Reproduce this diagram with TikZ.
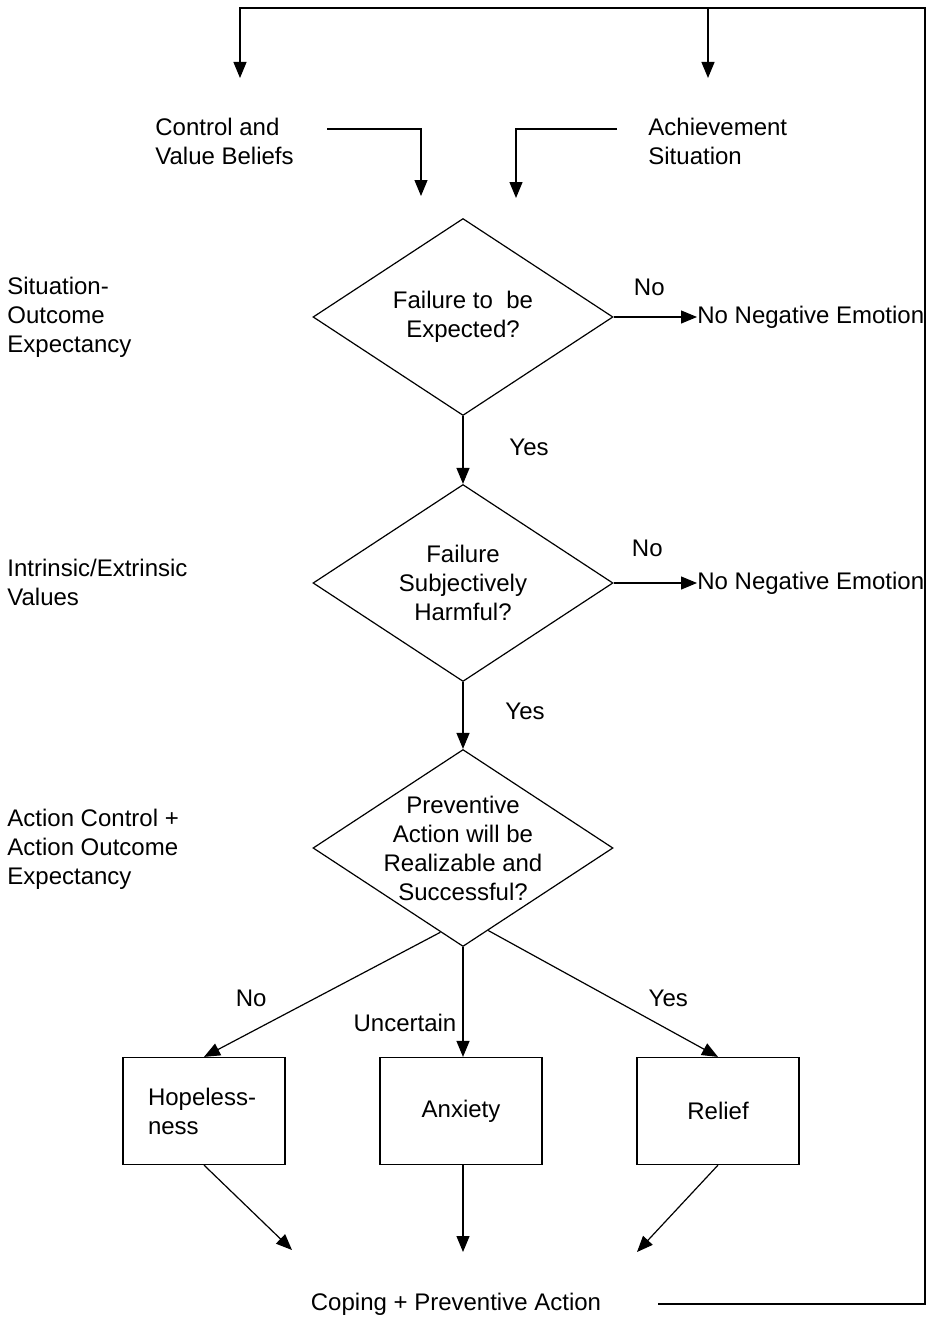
\documentclass[tikz,border=0pt]{standalone}
\usepackage{fontspec}
\setmainfont{Liberation Sans}
\usetikzlibrary{shapes.geometric, arrows.meta, positioning}
\tikzset{
  wire/.style  ={line width=0.6pt, draw=black},
  flow/.style  ={wire, -{Triangle[length=8pt,width=6.5pt]}},
  decide/.style={diamond, draw, line width=0.6pt, minimum width=150pt,
                 minimum height=98.5pt, inner sep=-10pt, align=center},
  emo/.style   ={draw, line width=0.6pt, minimum width=81pt,
                 minimum height=53.5pt, inner sep=0pt, align=center},
  side/.style  ={align=left, inner sep=0pt},
  lbl/.style   ={inner sep=0pt}
}
\begin{document}
\begin{tikzpicture}[x=0.5pt, y=-0.5pt, font=\fontsize{12}{14.5}\selectfont]
  \useasboundingbox (0,0) rectangle (933,1322);

  % inputs
  \node[side, anchor=west] (cvb) at (155,141) {Control and\\Value Beliefs};
  \node[side, anchor=west] (ach) at (648,141) {Achievement\\Situation};
  \coordinate (cvbtop) at (240,78);
  \coordinate (achtop) at (708,78);
  \coordinate (cvbin)  at (421,196);
  \coordinate (achin)  at (516,198);
  \coordinate (loop)   at (925,8);

  % appraisals
  \node[side, anchor=west] (sit) at (7,317) {Situation-\\Outcome\\Expectancy};
  \node[side, anchor=west] (val) at (7,582) {Intrinsic/Extrinsic\\Values};
  \node[side, anchor=west] (act) at (7,849) {Action Control +\\Action Outcome\\Expectancy};

  % decisions
  \node[decide] (d1) at (463,317) {Failure to~ be\\Expected?};
  \node[decide] (d2) at (463,583) {Failure\\Subjectively\\Harmful?};
  \node[decide] (d3) at (463,848) {Preventive\\Action will be\\Realizable and\\Successful?};
  \node[lbl, anchor=west] (none1) at (697,317) {No Negative Emotion};
  \node[lbl, anchor=west] (none2) at (697,583) {No Negative Emotion};

  % emotions
  \node[emo, text width=56pt, align=left] (hope) at (204,1111) {Hopeless-\\ness};
  \node[emo] (anx) at (461,1111) {Anxiety};
  \node[emo] (rel) at (718,1111) {Relief};

  \node[lbl] (cope) at (456,1304) {Coping + Preventive Action};
  \coordinate (copel) at (292,1250);
  \coordinate (copem) at (463,1252);
  \coordinate (coper) at (637,1252);

  % connectors
  \draw[flow] ([shift={(33,-12)}]cvb.east) -| (cvbin);
  \draw[flow] ([shift={(-31,-12)}]ach.west) -| (achin);
  \draw[flow] ([xshift=28.5pt]cope.east) -| (loop) -| (cvbtop);
  \draw[flow] (achtop |- loop) -- (achtop);

  \draw[flow] (d1.east) -- node[lbl, midway, xshift=-3pt, yshift=15pt] (no1) {No} (d1.east -| none1.west);
  \draw[flow] (d2.east) -- node[lbl, midway, xshift=-4pt, yshift=17.5pt] (no2) {No} (d2.east -| none2.west);
  \draw[flow] (d1.south) -- node[lbl, midway, xshift=33pt, yshift=1.5pt] (yes1) {Yes} (d2.north);
  \draw[flow] (d2.south) -- node[lbl, midway, xshift=31pt, yshift=2pt] (yes2) {Yes} (d3.north);

  \draw[flow] (d3.-105) -- node[lbl, pos=0.53, xshift=-32pt] (nol) {No} (hope.north);
  \draw[flow] (d3.south) -- node[lbl, pos=0.69, xshift=-29pt] (unc) {Uncertain} (d3.south |- anx.north);
  \draw[flow] (d3.-73) -- node[lbl, pos=0.54, xshift=28pt] (yesr) {Yes} (rel.north);

  \draw[flow] (hope.south) -- (copel);
  \draw[flow] (copem |- anx.south) -- (copem);
  \draw[flow] (rel.south) -- (coper);
\end{tikzpicture}
\end{document}
